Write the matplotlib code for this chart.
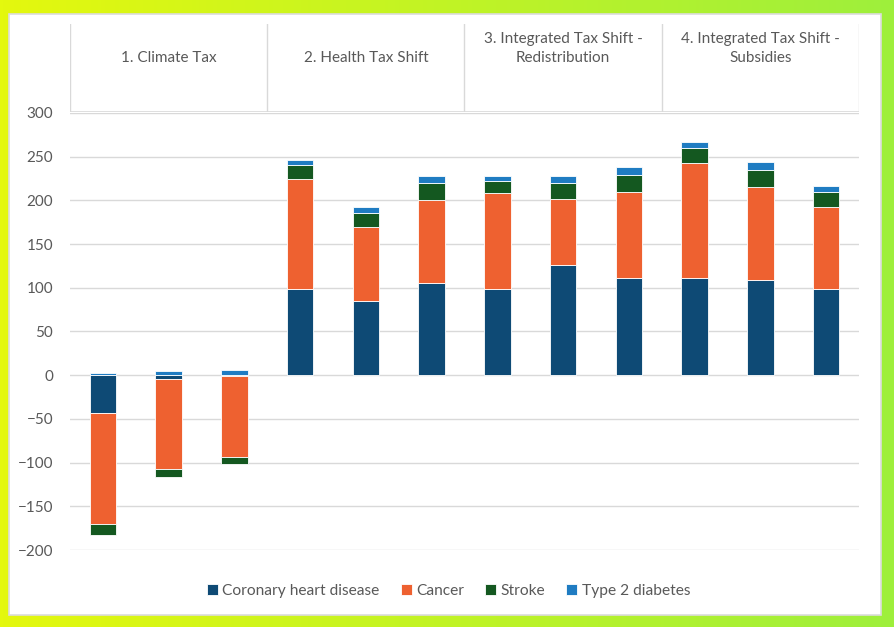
"""Stacked health-impact bars per tax scenario, Excel-style layout with group header boxes."""
import matplotlib
matplotlib.use("Agg")
import matplotlib.pyplot as plt
import numpy as np
from matplotlib.patches import Rectangle

# data
groups = ["1. Climate Tax", "2. Health Tax Shift",
          "3. Integrated Tax Shift -\nRedistribution", "4. Integrated Tax Shift -\nSubsidies"]
bars_per_group = 3
series = ["Coronary heart disease", "Cancer", "Stroke", "Type 2 diabetes"]
coronary = [-42.7, -4.5, -0.8, 99, 85, 105, 98.5, 126, 111, 111.5, 109, 99]
cancer = [-127, -103, -92.5, 125, 85, 95, 109.5, 75.5, 98.5, 131, 106, 94]
stroke = [-12.6, -9.2, -8, 17, 16, 20, 14.5, 18.7, 19.4, 18, 19.8, 16.4]
diabetes = [2.5, 5, 5.7, 5.5, 6, 8, 5.7, 7.6, 8.8, 6, 8.8, 7]
yticks = [300, 250, 200, 150, 100, 50, 0, -50, -100, -150, -200]

colors = ["#0E4A75", "#EE6130", "#145820", "#1F7CC2"]
txt = "#595959"
grid = "#D9D9D9"

plt.rcParams["font.family"] = ["Lato", "DejaVu Sans"]

W, H = 895, 627
fig = plt.figure(figsize=(W / 100, H / 100), dpi=100)

# gradient backdrop + white card
bg = fig.add_axes([0, 0, 1, 1], zorder=-10)
grad = np.linspace(0, 1, 256)[None, :, None]
c0 = np.array([0xE4, 0xF8, 0x0E]) / 255
c1 = np.array([0x9E, 0xEF, 0x3C]) / 255
bg.imshow(c0 + (c1 - c0) * grad, aspect="auto", extent=[0, 1, 0, 1])
bg.set_xlim(0, 1)
bg.set_ylim(0, 1)
bg.axis("off")
bg.add_patch(Rectangle((9 / W, 1 - 615 / H), (881 - 9) / W, (615 - 14) / H,
                       facecolor="white", edgecolor="#DCDCDC", lw=1.2))

left, right = 70 / W, 859 / W
ax = fig.add_axes([left, 1 - 550 / H, right - left, (550 - 113) / H])
x = np.arange(len(coronary))
pos = np.zeros(len(x))
neg = np.zeros(len(x))
for name, vals, col in zip(series, [coronary, cancer, stroke, diabetes], colors):
    v = np.array(vals, dtype=float)
    base = np.where(v >= 0, pos, neg)
    ax.bar(x, v, width=0.4, bottom=base, color=col, edgecolor="white",
           linewidth=0.6, label=name, zorder=3)
    pos = pos + np.clip(v, 0, None)
    neg = neg + np.clip(v, None, 0)

ax.set_xlim(-0.5, len(x) - 0.5)
ax.set_ylim(-200, 300)
ax.set_yticks(yticks)
ax.tick_params(axis="y", length=0, labelsize=11, labelcolor=txt, pad=12)
ax.set_xticks([])
ax.grid(axis="y", color=grid, lw=1, zorder=0)
for s in ax.spines.values():
    s.set_visible(False)

leg = ax.legend(loc="upper center", bbox_to_anchor=(0.48, -0.045), ncol=4, frameon=False,
                fontsize=11.2, handlelength=0.7, handleheight=0.7, handletextpad=0.3,
                columnspacing=1.35)
for t in leg.get_texts():
    t.set_color(txt)

# header boxes above the plot
hx = fig.add_axes([left, 1 - 112 / H, right - left, (112 - 24) / H])
hx.set_xlim(-0.5, len(x) - 0.5)
hx.set_ylim(0, 1)
hx.axis("off")
for i, g in enumerate(groups):
    x0 = i * bars_per_group - 0.5
    hx.plot([x0, x0], [0, 1], color=grid, lw=1)
    hx.text(x0 + bars_per_group / 2, 0.53, g, ha="center", va="bottom",
            fontsize=11, color=txt, linespacing=1.5)
hx.plot([len(x) - 0.5] * 2, [0, 1], color=grid, lw=1)
hx.plot([-0.5, len(x) - 0.5], [0, 0], color=grid, lw=1.2)

fig.savefig("out.png", dpi=100)
